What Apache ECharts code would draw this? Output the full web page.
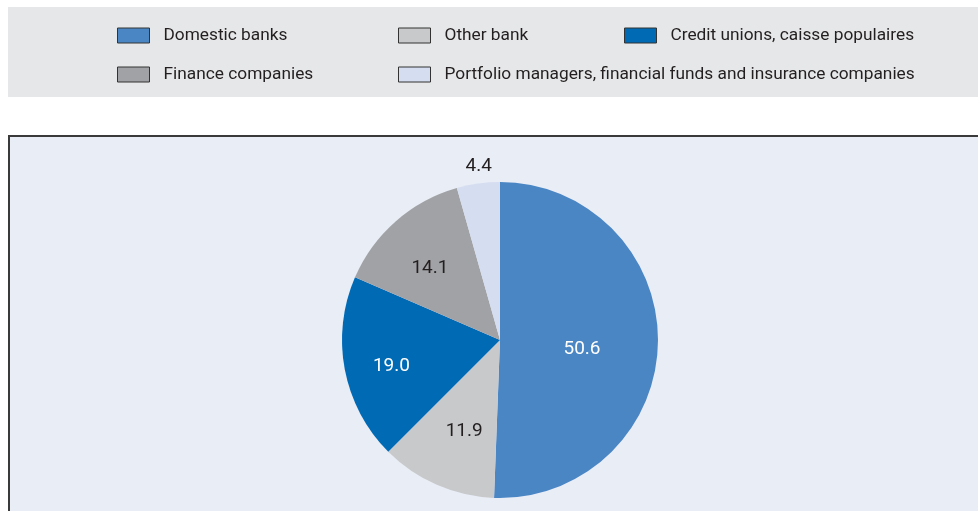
<!DOCTYPE html>
<html>
<head>
<meta charset="utf-8">
<script src="https://cdn.jsdelivr.net/npm/echarts@6/dist/echarts.min.js"></script>
<style>
  html, body { margin: 0; padding: 0; background: #fff; }
  #chart { width: 978px; height: 511px; }
</style>
</head>
<body>
<div id="chart"></div>
<script>
const categories = [
  'Domestic banks',
  'Other bank',
  'Credit unions, caisse populaires',
  'Finance companies',
  'Portfolio managers, financial funds and insurance companies'
]
const shares = [50.6, 11.9, 19.0, 14.1, 4.4]

const colors = ['#4b86c4', '#c8c9cb', '#006ab5', '#a1a2a5', '#d5ddf0']
const labelColors = ['#ffffff', '#231f20', '#ffffff', '#231f20', '#231f20']
const labelOffsets = [[0, 8], [-3, 16], [-28, 11], [-16, -10], [-10, -93]]

// legend slots: [left, top]
const legendSlots = [[117, 27], [398, 27], [624, 27], [117, 66], [398, 66]]

const font = 'Roboto, sans-serif'

const chart = echarts.init( document.getElementById( 'chart' ) )

chart.setOption( {
  animation : false,
  color : colors,
  graphic : [
    {
      type : 'rect',
      z : -10,
      shape : { x : 8, y : 7, width : 970, height : 90 },
      style : { fill : '#e6e7e8' }
    },
    {
      type : 'rect',
      z : -10,
      shape : { x : 9, y : 136, width : 1000, height : 400 },
      style : { fill : '#e9edf6', stroke : '#3a3a3a', lineWidth : 2 }
    }
  ],
  legend : categories.map( ( name, i ) => ( {
    data : [name],
    left : legendSlots[i][0],
    top : legendSlots[i][1],
    padding : 0,
    itemWidth : 32,
    itemHeight : 15,
    icon : 'rect',
    selectedMode : false,
    itemStyle : { borderColor : '#333', borderWidth : 1 },
    textStyle : {
      fontFamily : font,
      fontSize : 17.3,
      color : '#231f20',
      padding : [0, 0, 0, 9]
    }
  } ) ),
  series : [
    {
      type : 'pie',
      center : [500, 340],
      radius : 158,
      startAngle : 90,
      clockwise : true,
      silent : true,
      labelLine : { show : false },
      data : categories.map( ( name, i ) => ( {
        name,
        value : shares[i],
        label : {
          show : true,
          position : 'inside',
          formatter : shares[i].toFixed( 1 ),
          color : labelColors[i],
          fontFamily : font,
          fontSize : 19,
          offset : labelOffsets[i]
        }
      } ) )
    }
  ]
} )
</script>
</body>
</html>
